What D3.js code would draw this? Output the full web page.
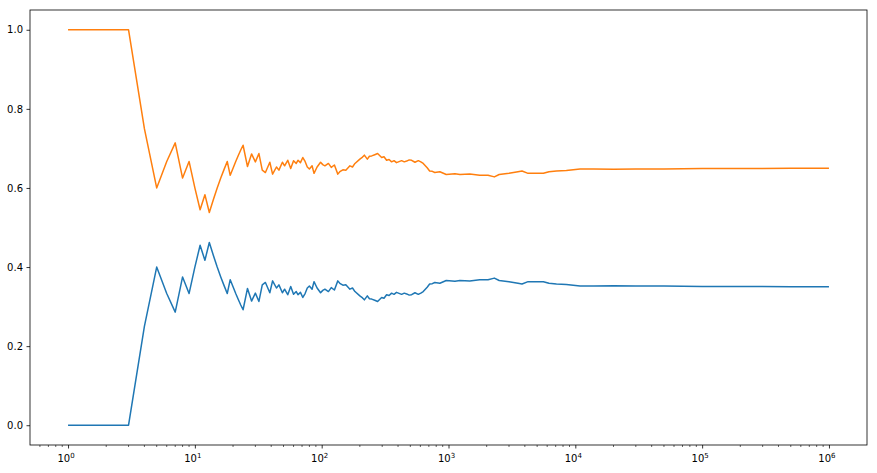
<!DOCTYPE html>
<html>
<head>
<meta charset="utf-8">
<script src="https://cdn.jsdelivr.net/npm/d3@7"></script>
<style>
  body { margin: 0; background: #fff; }
  text { font-family: "DejaVu Sans", sans-serif; fill: #000; }
</style>
</head>
<body>
<svg id="chart"></svg>
<script>
// number of trials (x values, log scale)
const trials = [1, 2, 3, 4, 5, 6, 7, 8, 9, 10, 11, 12, 13, 14, 15, 16, 17, 18, 19, 20,
  21, 22, 23, 24, 26, 28, 30, 32, 34, 36, 39, 41, 44, 46, 49, 51, 54, 57, 60, 63,
  65, 68, 71, 74, 77, 80, 84, 87, 92, 98, 102, 106, 113, 119, 126, 134, 139, 147, 155, 167,
  175, 183, 200, 210, 217, 229, 238, 248, 262, 276, 297, 310, 325, 340, 356, 372, 389, 427, 448, 468,
  490, 512, 544, 578, 605, 632, 679, 710, 745, 780, 855, 960, 1124, 1232, 1472, 1762, 2050, 2300, 2510, 3000,
  3530, 3800, 4240, 5600, 6200, 7100, 8500, 10900, 14000, 20000, 30000, 50000, 100000, 200000, 500000, 1000000]

// running share of the first outcome (blue)
const blue = [0, 0, 0, 0.25, 0.4, 0.333, 0.286, 0.375, 0.333, 0.4, 0.455, 0.417, 0.462, 0.429, 0.4, 0.375, 0.353, 0.333, 0.368, 0.35,
  0.333, 0.318, 0.304, 0.292, 0.346, 0.314, 0.334, 0.313, 0.355, 0.361, 0.335, 0.365, 0.347, 0.355, 0.335, 0.344, 0.33, 0.351, 0.331, 0.338,
  0.33, 0.336, 0.323, 0.333, 0.347, 0.352, 0.344, 0.363, 0.347, 0.335, 0.341, 0.344, 0.338, 0.348, 0.342, 0.365, 0.359, 0.354, 0.355, 0.344,
  0.347, 0.338, 0.327, 0.322, 0.317, 0.327, 0.32, 0.319, 0.316, 0.313, 0.323, 0.321, 0.33, 0.328, 0.334, 0.331, 0.336, 0.331, 0.334, 0.332,
  0.329, 0.33, 0.335, 0.331, 0.334, 0.338, 0.349, 0.357, 0.358, 0.361, 0.359, 0.366, 0.364, 0.366, 0.365, 0.368, 0.368, 0.372, 0.366, 0.363,
  0.359, 0.357, 0.363, 0.363, 0.359, 0.357, 0.356, 0.352, 0.352, 0.353, 0.352, 0.352, 0.351, 0.351, 0.35, 0.35]

// running share of the second outcome (orange)
const orange = [1, 1, 1, 0.75, 0.6, 0.667, 0.714, 0.625, 0.667, 0.6, 0.545, 0.583, 0.538, 0.571, 0.6, 0.625, 0.647, 0.667, 0.632, 0.65,
  0.667, 0.682, 0.696, 0.708, 0.654, 0.686, 0.666, 0.687, 0.645, 0.639, 0.665, 0.635, 0.653, 0.645, 0.665, 0.656, 0.67, 0.649, 0.669, 0.662,
  0.67, 0.664, 0.677, 0.667, 0.653, 0.648, 0.656, 0.637, 0.653, 0.665, 0.659, 0.656, 0.662, 0.652, 0.658, 0.635, 0.641, 0.646, 0.645, 0.656,
  0.653, 0.662, 0.673, 0.678, 0.683, 0.673, 0.68, 0.681, 0.684, 0.687, 0.677, 0.679, 0.67, 0.672, 0.666, 0.669, 0.664, 0.669, 0.666, 0.668,
  0.671, 0.67, 0.665, 0.669, 0.666, 0.662, 0.651, 0.643, 0.642, 0.639, 0.641, 0.634, 0.636, 0.634, 0.635, 0.632, 0.632, 0.628, 0.634, 0.637,
  0.641, 0.643, 0.637, 0.637, 0.641, 0.643, 0.644, 0.648, 0.648, 0.647, 0.648, 0.648, 0.649, 0.649, 0.65, 0.65]

const yTicks = [0, 0.2, 0.4, 0.6, 0.8, 1.0]
const xTicks = [1, 10, 100, 1000, 10000, 100000, 1000000]

const svg = d3.select("#chart")
const width = 877
const height = 473
const margin = {top: 10, right: 10, bottom: 28, left: 30}
const innerW = width - margin.left - margin.right
const innerH = height - margin.top - margin.bottom

svg.attr("width", width).attr("height", height)

const g = svg.append("g")
  .attr("transform", "translate(" + margin.left + "," + margin.top + ")")

// log x with matplotlib style 5% padding in log space
const x = d3.scaleLog()
  .domain([Math.pow(10, -0.3), Math.pow(10, 6.3)])
  .range([0, innerW])

const y = d3.scaleLinear()
  .domain([-0.05, 1.05])
  .range([innerH, 0])

// lines
const line = d3.line()
  .x((d, i) => x(trials[i]))
  .y(d => y(d))

g.append("path")
  .datum(blue)
  .attr("fill", "none")
  .attr("stroke", "#1f77b4")
  .attr("stroke-width", 1.5)
  .attr("stroke-linejoin", "round")
  .attr("d", line)

g.append("path")
  .datum(orange)
  .attr("fill", "none")
  .attr("stroke", "#ff7f0e")
  .attr("stroke-width", 1.5)
  .attr("stroke-linejoin", "round")
  .attr("d", line)

// y axis
const yAxis = g.append("g")
  .call(d3.axisLeft(y).tickValues(yTicks).tickFormat(d3.format(".1f")).tickSize(3.5).tickPadding(3.5))
yAxis.select(".domain").remove()
yAxis.selectAll("text").style("font-size", "10px")
yAxis.selectAll("line").attr("stroke-width", 0.8)

// minor x ticks
const minor = []
for (let e = -1; e <= 6; e++) {
  for (let m = 2; m <= 9; m++) {
    const v = m * Math.pow(10, e)
    if (v >= x.domain()[0] && v <= x.domain()[1]) minor.push(v)
  }
}
g.append("g")
  .attr("transform", "translate(0," + innerH + ")")
  .selectAll("line")
  .data(minor)
  .enter()
  .append("line")
  .attr("x1", d => x(d))
  .attr("x2", d => x(d))
  .attr("y1", 0)
  .attr("y2", 2)
  .attr("stroke", "#000")
  .attr("stroke-width", 0.6)

// major x ticks with 10^n labels
const xAxis = g.append("g")
  .attr("transform", "translate(0," + innerH + ")")
  .call(d3.axisBottom(x).tickValues(xTicks).tickFormat("").tickSize(3.5))
xAxis.select(".domain").remove()
xAxis.selectAll("line").attr("stroke-width", 0.8)

const lbl = g.append("g")
  .attr("transform", "translate(0," + innerH + ")")
  .selectAll("text")
  .data(xTicks)
  .enter()
  .append("text")
  .attr("x", d => x(d) - 2)
  .attr("y", 17)
  .attr("text-anchor", "middle")
  .style("font-size", "10px")
lbl.append("tspan").text("10")
lbl.append("tspan")
  .attr("dy", -4)
  .style("font-size", "7px")
  .text(d => Math.round(Math.log10(d)))

// frame
g.append("rect")
  .attr("width", innerW)
  .attr("height", innerH)
  .attr("fill", "none")
  .attr("stroke", "#000")
  .attr("stroke-width", 0.8)
</script>
</body>
</html>
